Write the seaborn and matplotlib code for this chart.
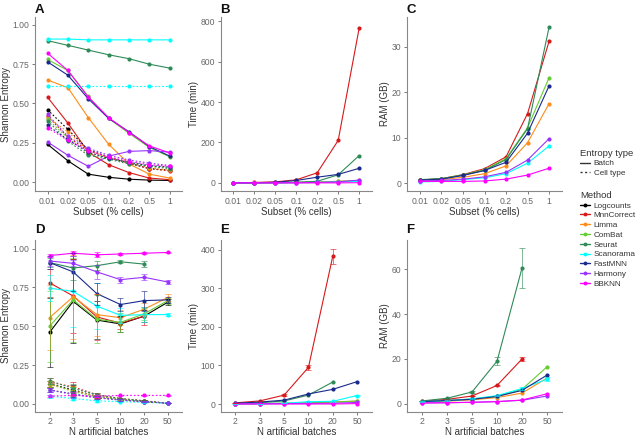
import numpy as np
import pandas as pd
import matplotlib
matplotlib.use("Agg")
import matplotlib.pyplot as plt
from matplotlib.lines import Line2D
import seaborn as sns

methods = ["Logcounts", "MnnCorrect", "Limma", "ComBat", "Seurat",
           "Scanorama", "FastMNN", "Harmony", "BBKNN"]
colors = ["#000000", "#d7191c", "#ff8c1a", "#66cc33", "#2e8b57",
          "#00ffff", "#1a2a8c", "#9933ff", "#ff00ff"]
palette = dict(zip(methods, colors))

subset_labels = ["0.01", "0.02", "0.05", "0.1", "0.2", "0.5", "1"]
batch_labels = ["2", "3", "5", "10", "20", "50"]
nan = np.nan

# A: Shannon entropy vs subset
a_batch = {
    "Logcounts":  [0.24, 0.135, 0.05, 0.03, 0.018, 0.012, 0.01],
    "MnnCorrect": [0.54, 0.375, 0.19, 0.11, 0.06, 0.025, 0.015],
    "Limma":      [0.65, 0.60, 0.41, 0.24, 0.115, 0.05, 0.025],
    "ComBat":     [0.78, 0.71, 0.545, 0.405, 0.31, 0.22, 0.16],
    "Seurat":     [0.90, 0.87, 0.84, 0.81, 0.785, 0.75, 0.725],
    "Scanorama":  [0.91, 0.91, 0.905, 0.905, 0.905, 0.905, 0.905],
    "FastMNN":    [0.765, 0.68, 0.53, 0.405, 0.32, 0.225, 0.165],
    "Harmony":    [0.255, 0.17, 0.10, 0.165, 0.195, 0.20, 0.19],
    "BBKNN":      [0.82, 0.71, 0.54, 0.41, 0.315, 0.23, 0.185],
}
a_cell = {
    "Logcounts":  [0.46, 0.335, 0.205, 0.16, 0.12, 0.085, 0.075],
    "MnnCorrect": [0.42, 0.285, 0.20, 0.155, 0.12, 0.085, 0.07],
    "Limma":      [0.41, 0.32, 0.20, 0.155, 0.125, 0.09, 0.075],
    "ComBat":     [0.40, 0.28, 0.18, 0.15, 0.125, 0.10, 0.09],
    "Seurat":     [0.39, 0.26, 0.17, 0.145, 0.115, 0.10, 0.085],
    "Scanorama":  [0.61, 0.61, 0.61, 0.61, 0.61, 0.61, 0.61],
    "FastMNN":    [0.36, 0.27, 0.19, 0.15, 0.125, 0.105, 0.095],
    "Harmony":    [0.43, 0.29, 0.215, 0.17, 0.14, 0.12, 0.105],
    "BBKNN":      [0.345, 0.265, 0.20, 0.16, 0.13, 0.11, 0.10],
}

# B: time (min) vs subset
b_time = {
    "MnnCorrect": [0, 2, 5, 15, 50, 210, 765],
    "Limma":      [0, 0, 1, 2, 4, 8, 12],
    "ComBat":     [0, 0, 1, 2, 4, 7, 10],
    "Seurat":     [0, 0, 1, 3, 8, 40, 135],
    "Scanorama":  [0, 0, 0, 1, 2, 4, 8],
    "FastMNN":    [0, 1, 3, 12, 28, 42, 72],
    "Harmony":    [0, 0, 0, 1, 2, 5, 14],
    "BBKNN":      [0, 0, 0, 0, 0, 0, 1],
}

# C: RAM (GB) vs subset
c_ram = {
    "MnnCorrect": [0.7, 1.0, 1.9, 3.2, 5.8, 15.3, 31.2],
    "Limma":      [0.6, 0.8, 1.3, 2.1, 3.8, 8.9, 17.5],
    "ComBat":     [0.7, 1.0, 1.8, 3.0, 5.4, 12.2, 23.2],
    "Seurat":     [0.8, 1.0, 1.8, 2.8, 5.2, 12.0, 34.3],
    "Scanorama":  [0.3, 0.4, 0.8, 1.2, 2.1, 4.4, 8.2],
    "FastMNN":    [0.7, 0.9, 1.7, 2.8, 4.6, 11.0, 21.4],
    "Harmony":    [0.5, 0.6, 0.9, 1.4, 2.4, 5.1, 9.8],
    "BBKNN":      [0.4, 0.4, 0.4, 0.5, 0.9, 1.8, 3.3],
}

# D: Shannon entropy vs number of batches (mean and sd)
d_batch = {
    "Logcounts":  [0.46, 0.66, 0.54, 0.515, 0.565, 0.655],
    "MnnCorrect": [0.78, 0.695, 0.56, 0.52, 0.565, nan],
    "Limma":      [0.555, 0.69, 0.575, 0.555, 0.61, 0.685],
    "ComBat":     [0.50, 0.67, 0.545, 0.525, 0.58, 0.665],
    "Seurat":     [0.91, 0.875, 0.89, 0.915, 0.90, nan],
    "Scanorama":  [0.745, 0.725, 0.63, 0.57, 0.575, 0.575],
    "FastMNN":    [0.91, 0.85, 0.71, 0.64, 0.665, 0.67],
    "Harmony":    [0.92, 0.905, 0.85, 0.80, 0.815, 0.785],
    "BBKNN":      [0.955, 0.97, 0.96, 0.965, 0.97, 0.975],
}
d_batch_sd = {
    "Logcounts":  [0.22, 0.27, 0.125, 0.05, 0.04, 0.02],
    "MnnCorrect": [0.09, 0.24, 0.15, 0.04, 0.06, nan],
    "Limma":      [0.21, 0.27, 0.135, 0.05, 0.04, 0.02],
    "ComBat":     [0.23, 0.27, 0.155, 0.06, 0.04, 0.02],
    "Seurat":     [0.03, 0.075, 0.03, 0.01, 0.02, nan],
    "Scanorama":  [0.085, 0.23, 0.15, 0.05, 0.05, 0.01],
    "FastMNN":    [0.04, 0.12, 0.07, 0.045, 0.065, 0.02],
    "Harmony":    [0.03, 0.02, 0.045, 0.02, 0.02, 0.01],
    "BBKNN":      [0.01, 0.015, 0.015, 0.005, 0.005, 0.005],
}
d_cell = {
    "Logcounts":  [0.13, 0.09, 0.05, 0.03, 0.02, 0.005],
    "MnnCorrect": [0.14, 0.11, 0.06, 0.035, 0.02, nan],
    "Limma":      [0.125, 0.085, 0.05, 0.03, 0.015, 0.005],
    "ComBat":     [0.13, 0.08, 0.045, 0.03, 0.015, 0.005],
    "Seurat":     [0.15, 0.10, 0.06, 0.035, 0.02, nan],
    "Scanorama":  [0.05, 0.035, 0.02, 0.015, 0.01, 0.005],
    "FastMNN":    [0.09, 0.065, 0.04, 0.025, 0.015, 0.005],
    "Harmony":    [0.09, 0.06, 0.04, 0.025, 0.015, 0.005],
    "BBKNN":      [0.05, 0.055, 0.05, 0.055, 0.055, 0.055],
}
d_cell_sd = {
    "Logcounts":  [0.02, 0.03, 0.01, 0.005, 0.005, 0.002],
    "MnnCorrect": [0.03, 0.03, 0.01, 0.005, 0.005, nan],
    "Limma":      [0.02, 0.03, 0.01, 0.005, 0.005, 0.002],
    "ComBat":     [0.02, 0.03, 0.01, 0.005, 0.005, 0.002],
    "Seurat":     [0.02, 0.03, 0.01, 0.005, 0.005, nan],
    "Scanorama":  [0.01, 0.01, 0.005, 0.005, 0.005, 0.002],
    "FastMNN":    [0.01, 0.02, 0.01, 0.005, 0.005, 0.002],
    "Harmony":    [0.01, 0.02, 0.01, 0.005, 0.005, 0.002],
    "BBKNN":      [0.005, 0.005, 0.005, 0.005, 0.005, 0.005],
}

# E: time (min) vs number of batches
e_time = {
    "MnnCorrect": [3, 8, 23, 95, 383, nan],
    "Limma":      [0.5, 1, 2, 3, 5, 7],
    "ComBat":     [0.5, 1, 2, 3, 5, 8],
    "Seurat":     [1, 3, 8, 23, 57, nan],
    "Scanorama":  [0.5, 1, 2, 6, 7, 22],
    "FastMNN":    [2, 5, 10, 26, 38, 58],
    "Harmony":    [0.3, 0.5, 1, 1.5, 2, 4],
    "BBKNN":      [0, 0, 0, 0, 0, 1],
}
e_time_sd = {
    "MnnCorrect": [0.5, 1, 2, 7, 20, nan],
    "Scanorama":  [0, 0, 0, 1, 1, 2],
}

# F: RAM (GB) vs number of batches
f_ram = {
    "MnnCorrect": [1.2, 2.0, 3.5, 8.2, 20.0, nan],
    "Limma":      [0.8, 1.2, 1.8, 2.8, 4.8, 11.5],
    "ComBat":     [1.0, 1.5, 2.2, 3.3, 6.5, 16.5],
    "Seurat":     [1.3, 2.5, 5.3, 19.0, 60.5, nan],
    "Scanorama":  [1.0, 1.4, 2.2, 3.7, 6.8, 11.0],
    "FastMNN":    [1.0, 1.5, 2.0, 3.3, 6.0, 12.8],
    "Harmony":    [0.4, 0.5, 0.7, 1.0, 1.6, 3.5],
    "BBKNN":      [0.4, 0.5, 0.7, 1.0, 1.7, 4.5],
}
f_ram_sd = {
    "MnnCorrect": [0.1, 0.2, 0.2, 0.4, 0.8, nan],
    "Seurat":     [0.1, 0.2, 0.4, 1.7, 9.0, nan],
    "Scanorama":  [0.1, 0.1, 0.2, 0.3, 0.5, 1.0],
}


def to_long(series, entropy="Batch"):
    rows = []
    for m in methods:
        if m not in series:
            continue
        for i, v in enumerate(series[m]):
            rows.append({"x": i, "value": v, "Method": m, "Entropy": entropy})
    return pd.DataFrame(rows)


sns.set_theme(style="white")
plt.rcParams["font.family"] = ["Liberation Sans", "DejaVu Sans"]

fig = plt.figure(figsize=(6.42, 4.38), dpi=100)

w_cols = [(0.055, 0.2285), (0.344, 0.235), (0.634, 0.2414)]
rows = [(0.5640, 0.3970), (0.0600, 0.392)]
letter_y = [0.970, 0.468]
axes = {}
letters = [["A", "B", "C"], ["D", "E", "F"]]
for r, (b, h) in enumerate(rows):
    for c, (l, w) in enumerate(w_cols):
        ax = fig.add_axes([l, b, w, h])
        axes[letters[r][c]] = ax
        fig.text(l - 0.001, letter_y[r], letters[r][c], fontsize=9.5,
                 fontweight="bold", ha="left", va="baseline", color="#111111")

line_kw = dict(palette=palette, marker="o", markersize=3.0, markeredgewidth=0,
               linewidth=0.8, legend=False)


def draw(ax, series, sd=None, entropy="Batch", dashes=None):
    df = to_long(series, entropy)
    order = [m for m in methods if m in series]
    sns.lineplot(data=df, x="x", y="value", hue="Method", hue_order=order,
                 ax=ax, **line_kw)
    if dashes is not None:
        for ln in ax.get_lines()[-len(order):]:
            ln.set_dashes(dashes)
    if sd is not None:
        for m in order:
            if m not in sd:
                continue
            ax.errorbar(np.arange(len(series[m])), series[m], yerr=sd[m], fmt="none",
                        ecolor=palette[m], elinewidth=0.7, capsize=2, capthick=0.7,
                        alpha=0.6)


dot = (1.5, 1.8)
draw(axes["A"], a_batch)
draw(axes["A"], a_cell, dashes=dot)
draw(axes["B"], b_time)
draw(axes["C"], c_ram)
draw(axes["D"], d_batch, d_batch_sd)
draw(axes["D"], d_cell, d_cell_sd, dashes=dot)
draw(axes["E"], e_time, e_time_sd)
draw(axes["F"], f_ram, f_ram_sd)

settings = {
    "A": ("Shannon Entropy", (-0.057, 1.05), [0, 0.25, 0.5, 0.75, 1.0], "{:.2f}"),
    "B": ("Time (min)", (-40, 820), [0, 200, 400, 600, 800], "{:.0f}"),
    "C": ("RAM (GB)", (-1.7, 36.5), [0, 10, 20, 30], "{:.0f}"),
    "D": ("Shannon Entropy", (-0.05, 1.055), [0, 0.25, 0.5, 0.75, 1.0], "{:.2f}"),
    "E": ("Time (min)", (-20, 425), [0, 100, 200, 300, 400], "{:.0f}"),
    "F": ("RAM (GB)", (-3.5, 73), [0, 20, 40, 60], "{:.0f}"),
}
for key, ax in axes.items():
    ylab, ylim, yt, fmt = settings[key]
    top = key in "ABC"
    labels = subset_labels if top else batch_labels
    ax.set_xticks(range(len(labels)))
    ax.set_xticklabels(labels)
    ax.set_xlim(-0.6, len(labels) - 0.4)
    ax.set_ylim(*ylim)
    ax.set_yticks(yt)
    ax.set_yticklabels([fmt.format(v) for v in yt])
    ax.set_xlabel("Subset (% cells)" if top else "N artificial batches",
                  fontsize=7.0, color="#333333", labelpad=0.8)
    ax.set_ylabel(ylab, fontsize=7.0, color="#333333", labelpad=1.5)
    ax.tick_params(axis="both", labelsize=6.2, colors="#666666", length=2.5,
                   width=0.6, pad=1.5, bottom=True, left=True)
    for s in ["top", "right"]:
        ax.spines[s].set_visible(False)
    for s in ["left", "bottom"]:
        ax.spines[s].set_color("#888888")
        ax.spines[s].set_linewidth(0.8)
    ax.grid(False)

# legends
ent_handles = [Line2D([], [], color="#333333", lw=1.0, ls="-"),
               Line2D([], [], color="#333333", lw=1.0, dashes=dot)]
leg1 = fig.legend(ent_handles, ["Batch", "Cell type"], title="Entropy type",
                  loc="upper left", bbox_to_anchor=(0.898, 0.668), frameon=False,
                  fontsize=5.9, title_fontsize=6.8, handlelength=1.2,
                  handletextpad=0.5, labelspacing=0.25, borderaxespad=0)
leg1._legend_box.align = "left"
meth_handles = [Line2D([], [], color=palette[m], lw=1.0, marker="o",
                       markersize=2.8, markeredgewidth=0) for m in methods]
leg2 = fig.legend(meth_handles, methods, title="Method", loc="upper left",
                  bbox_to_anchor=(0.898, 0.572), frameon=False, fontsize=5.9,
                  title_fontsize=6.8, handlelength=1.2, handletextpad=0.5,
                  labelspacing=0.25, borderaxespad=0)
leg2._legend_box.align = "left"
for leg in (leg1, leg2):
    leg.get_title().set_color("#333333")
    for t in leg.get_texts():
        t.set_color("#333333")

fig.savefig("out.png", dpi=100)
